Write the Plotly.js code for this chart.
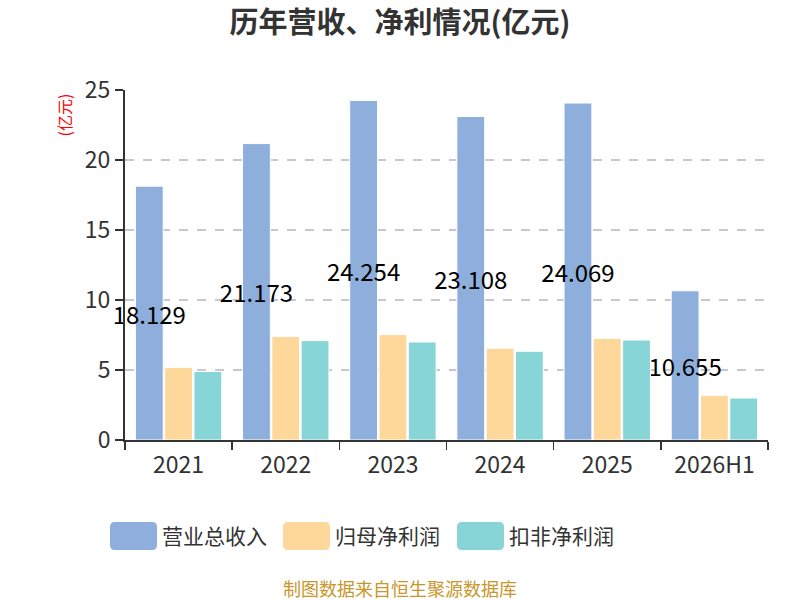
<!DOCTYPE html>
<html>
<head>
<meta charset="utf-8">
<script src="https://cdn.plot.ly/plotly-3.0.1.min.js"></script>
<style>
body { margin: 0; }
#chart { width: 800px; height: 600px; }
</style>
</head>
<body>
<div id="chart"></div>
<script>
var years = ["2021", "2022", "2023", "2024", "2025", "2026H1"]
var revenue = [18.129, 21.173, 24.254, 23.108, 24.069, 10.655]
var netProfit = [5.17, 7.39, 7.53, 6.55, 7.26, 3.19]
var deductedProfit = [4.90, 7.10, 7.00, 6.34, 7.14, 3.00]
var seriesNames = ["营业总收入", "归母净利润", "扣非净利润"]
var seriesColors = ["#8eaedb", "#fed89a", "#88d5d8"]

var FONT = "Noto Sans CJK SC, Noto Sans, sans-serif"

function barTrace(values, i, withText) {
    var t = {
        type: "bar",
        name: seriesNames[i],
        x: years,
        y: values,
        marker: { color: seriesColors[i], line: { color: "#ffffff", width: 1 } },
        hoverinfo: "x+y",
    }
    if (withText) {
        t.text = values.map(function (v) { return v.toFixed(3) })
        t.textposition = "inside"
        t.insidetextanchor = "middle"
        t.textangle = 0
        t.constraintext = "none"
        t.insidetextfont = { family: FONT, size: 24, color: "#000000" }
        t.cliponaxis = false
    }
    return t
}

// plot area in pixels: x 125..768, y 90..440
function px(x) { return (x - 125) / (768 - 125) }
function py(y) { return (440 - y) / (440 - 90) }
function roundRect(x, y, w, h, r) {
    function P(a, b) { return px(a) + "," + py(b) }
    return "M" + P(x + r, y) + " L" + P(x + w - r, y) +
        " Q" + P(x + w, y) + " " + P(x + w, y + r) +
        " L" + P(x + w, y + h - r) +
        " Q" + P(x + w, y + h) + " " + P(x + w - r, y + h) +
        " L" + P(x + r, y + h) +
        " Q" + P(x, y + h) + " " + P(x, y + h - r) +
        " L" + P(x, y + r) +
        " Q" + P(x, y) + " " + P(x + r, y) + " Z"
}

// legend drawn by hand to get the wide rounded swatches
var legendX = [110, 283, 457]
var shapes = []
var annotations = []
seriesNames.forEach(function (name, i) {
    shapes.push({
        type: "path",
        xref: "paper", yref: "paper",
        path: roundRect(legendX[i], 522, 47, 28, 5),
        fillcolor: seriesColors[i],
        line: { width: 0 },
    })
    annotations.push({
        xref: "paper", yref: "paper",
        x: px(legendX[i] + 50), y: py(535),
        xanchor: "left", yanchor: "middle",
        text: name, showarrow: false,
        font: { family: FONT, size: 21, color: "#333333" },
    })
})

annotations.push({
    xref: "paper", yref: "paper",
    x: px(63.5), y: py(115),
    xanchor: "center", yanchor: "middle",
    text: "(亿元)", textangle: -90, showarrow: false,
    font: { family: FONT, size: 16, color: "#ff0000" },
})
annotations.push({
    xref: "paper", yref: "paper",
    x: px(400), y: py(588),
    xanchor: "center", yanchor: "middle",
    text: "制图数据来自恒生聚源数据库", showarrow: false,
    font: { family: FONT, size: 18, color: "#c9962b" },
})

Plotly.newPlot(
    document.getElementById("chart"),
    [barTrace(revenue, 0, true), barTrace(netProfit, 1, false), barTrace(deductedProfit, 2, false)],
    {
        width: 800,
        height: 600,
        showlegend: false,
        barmode: "group",
        bargap: 0.18,
        bargroupgap: 0.05,
        margin: { t: 90, l: 125, r: 32, b: 160 },
        paper_bgcolor: "#ffffff",
        plot_bgcolor: "#ffffff",
        font: { family: FONT, color: "#333333" },
        title: {
            text: "<b>历年营收、净利情况(亿元)</b>",
            x: 0.5,
            xref: "container",
            y: 1 - 23 / 600,
            yanchor: "middle",
            font: { family: FONT, size: 29, color: "#333333" },
        },
        xaxis: {
            type: "category",
            showline: true,
            linecolor: "#333333",
            linewidth: 2,
            ticks: "outside",
            tickson: "boundaries",
            ticklen: 8,
            tickcolor: "#333333",
            tickwidth: 1.5,
            showgrid: false,
            ticklabelstandoff: 3,
            tickfont: { family: FONT, size: 23, color: "#333333" },
            fixedrange: true,
        },
        yaxis: {
            range: [0, 25],
            dtick: 5,
            showline: true,
            linecolor: "#333333",
            linewidth: 2,
            ticks: "outside",
            ticklen: 8,
            tickcolor: "#333333",
            tickwidth: 1.5,
            showgrid: true,
            gridcolor: "#c8c8c8",
            griddash: "dash",
            gridwidth: 1.5,
            zeroline: false,
            tickfont: { family: FONT, size: 23, color: "#333333" },
            fixedrange: true,
        },
        shapes: shapes,
        annotations: annotations,
    },
    { displayModeBar: false, staticPlot: true }
)
</script>
</body>
</html>
